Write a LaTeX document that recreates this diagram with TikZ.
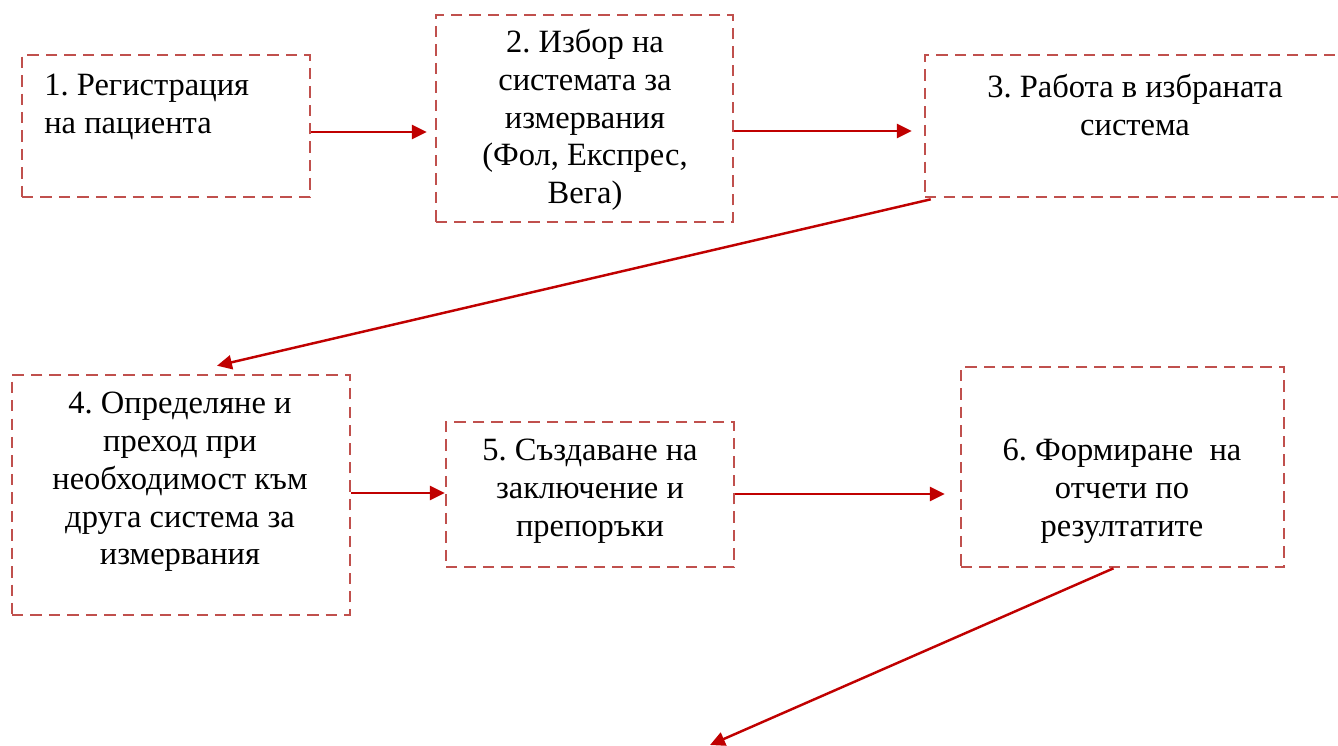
\documentclass[tikz,border=0pt]{standalone}
\usepackage{fontspec}
\setmainfont{Liberation Serif}
\usepackage{tikz}
\usetikzlibrary{arrows.meta,calc}
\definecolor{boxred}{RGB}{192,80,77}
\definecolor{arrred}{RGB}{192,0,0}
\frenchspacing

\begin{document}
\begin{tikzpicture}[
    x=0.02cm, y=-0.02cm,
    stage/.style={rectangle, draw=boxred, line width=1.5pt, dash pattern=on 6.5pt off 4pt, inner sep=0pt},
    stagetext/.style={font=\fontsize{18.5}{21.5}\selectfont, align=center, inner sep=0pt},
    arr/.style={-{Triangle[length=8.5pt,width=8pt]}, draw=arrred, line width=1.4pt}
]
\useasboundingbox (0,0) rectangle (1338,745);
\clip (0,0) rectangle (1338,745);

% First row
\node[stage, minimum width=5.76cm, minimum height=2.84cm] (b1) at (166,126) {};
\node[stagetext, align=left, anchor=west] (t1) at (44,107) {1. Регистрация\\на пациента};

\node[stage, minimum width=5.94cm, minimum height=4.14cm] (b2) at (584.5,118.5) {};
\node[stagetext] (t2) at (585,120) {2. Избор на\\системата за\\измервания\\(Фол, Експрес,\\Вега)};

\node[stage, minimum width=8.4cm, minimum height=2.84cm] (b3) at (1135,126) {};
\node[stagetext] (t3) at (1135,105) {3. Работа в избраната\\система};

% Second row
\node[stage, minimum width=6.76cm, minimum height=4.8cm] (b4) at (181,495) {};
\node[stagetext] (t4) at (180,482) {4. Определяне и\\преход при\\необходимост към\\друга система за\\измервания};

\node[stage, minimum width=5.76cm, minimum height=2.9cm] (b5) at (590,494.5) {};
\node[stagetext] (t5) at (590,491) {5. Създаване на\\заключение и\\препоръки};

\node[stage, minimum width=6.46cm, minimum height=4cm] (b6) at (1122.5,467) {};
\node[stagetext] (t6) at (1122,491) {6. Формиране \ на\\отчети по\\резултатите};

\coordinate (out) at (710,745);

% Connectors
\draw[arr, shorten >=4.5pt] (b1.east |- 0,132) -- (b2.west |- 0,132);
\draw[arr, shorten >=6.8pt] (b2.east |- 0,131) -- (b3.west |- 0,131);
\draw[arr] ($(b3.south west)+(7,1)$) -- ($(b4.north)+(36,-8)$);
\draw[arr] (b4.east |- 0,493) -- (b5.west |- 0,493);
\draw[arr, shorten >=8.5pt] (b5.east |- 0,494) -- (b6.west |- 0,494);
\draw[arr] ($(b6.south)+(-9,0)$) -- (out);

\end{tikzpicture}
\end{document}
